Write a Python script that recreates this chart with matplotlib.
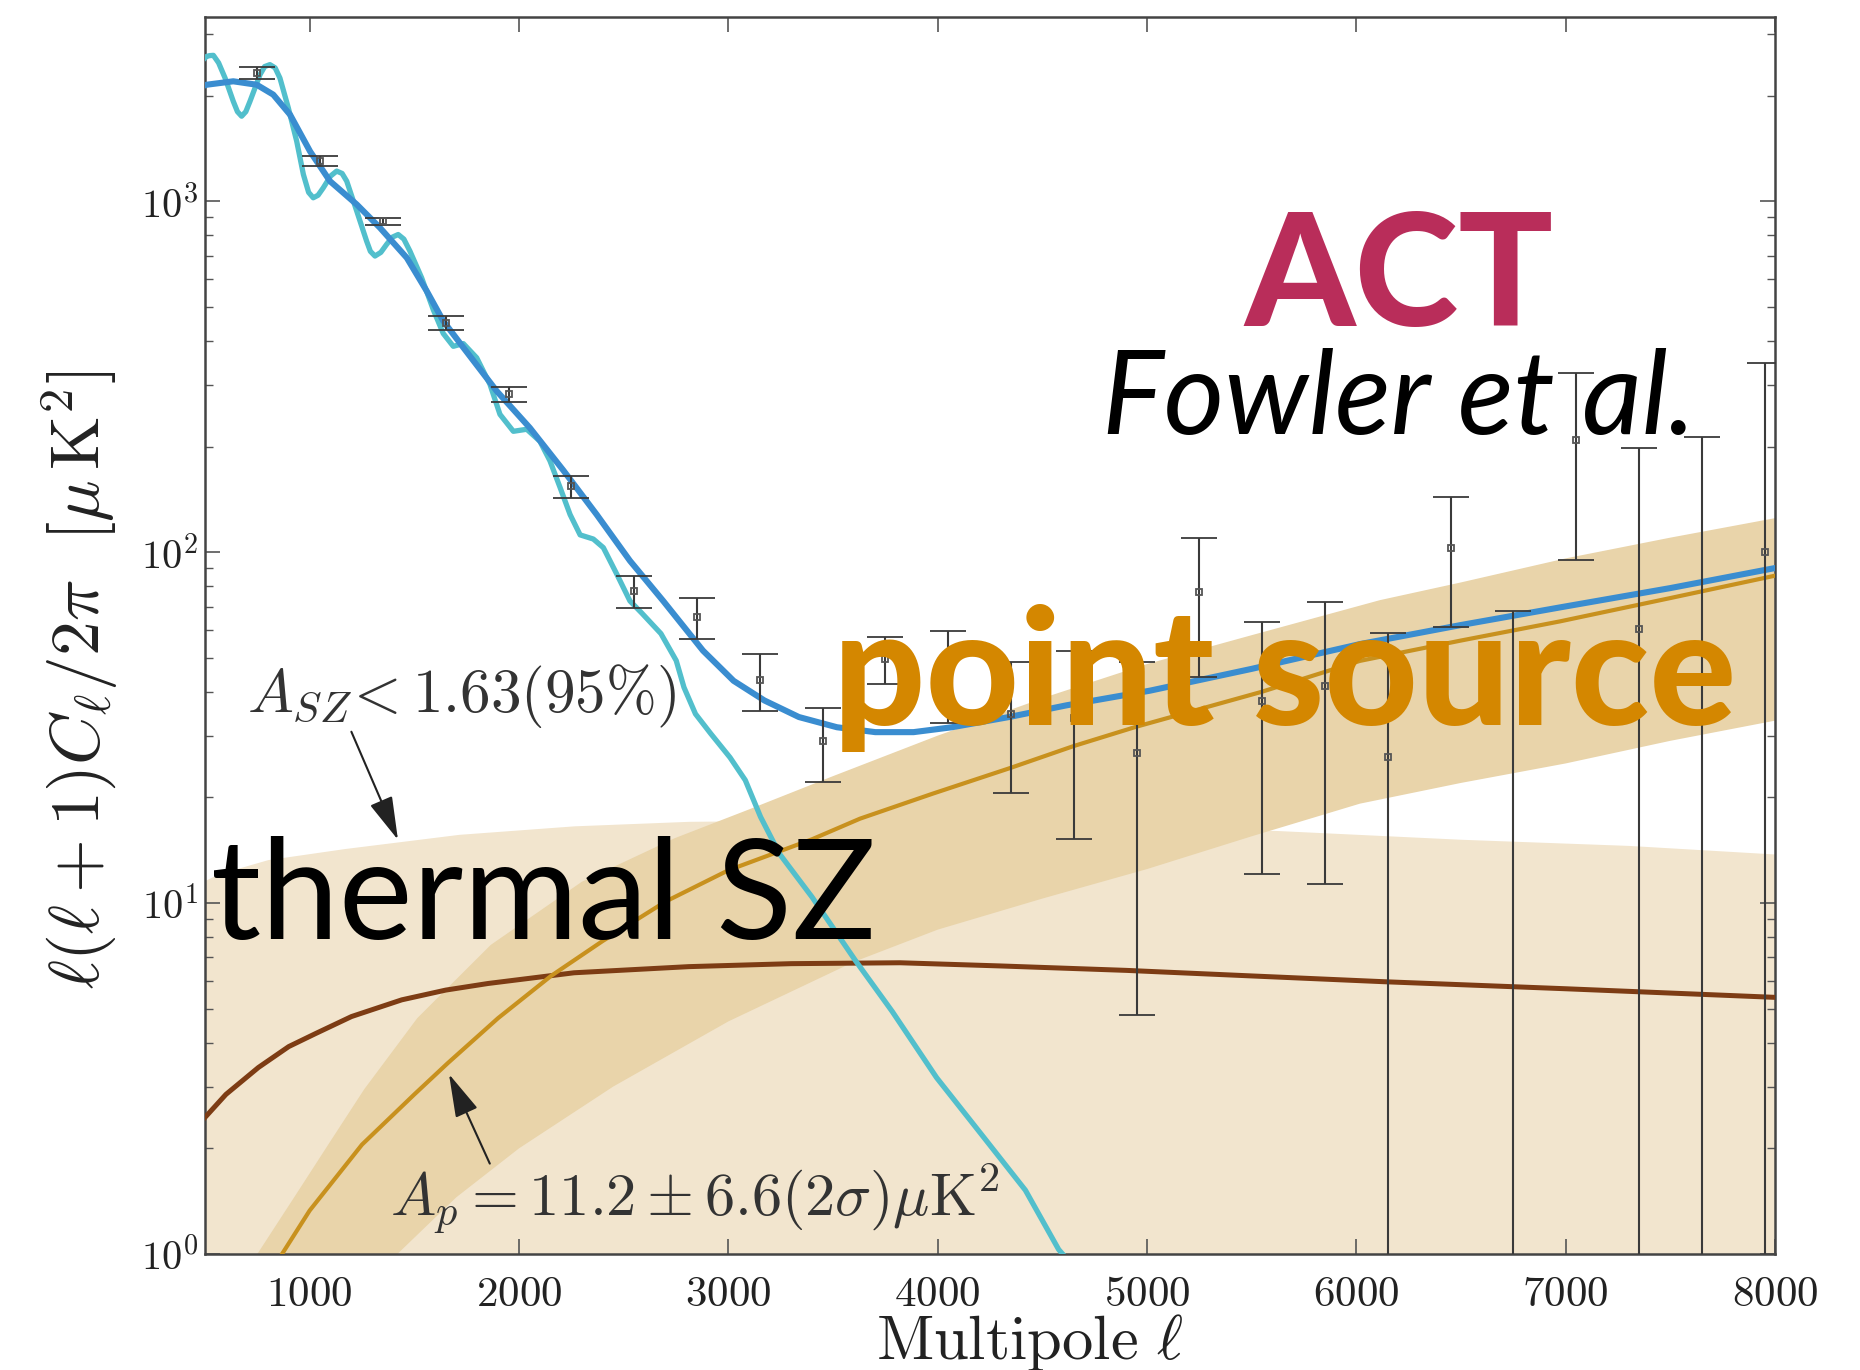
import numpy as np
import matplotlib
matplotlib.use("Agg")
import matplotlib.pyplot as plt

plt.rcParams['mathtext.fontset'] = 'cm'
plt.rcParams['font.family'] = ['DejaVu Serif']

# ---------------- data ----------------
bin_ell = [750, 1050, 1350, 1650, 1950, 2250, 2550, 2850, 3150, 3450, 3750, 4050,
           4350, 4650, 4950, 5250, 5550, 5850, 6150, 6450, 6750, 7050, 7350, 7650, 7950]
bin_val = [2323, 1304, 877, 451, 282, 154, 77.4, 65.2, 43.3, 29.0, 49.7, 46.0,
           34.6, 33.7, 26.7, 77.0, 37.6, 41.6, 26.1, 102.5, -5.0, 209, 60.4, -20.0, 100]
bin_err = [88, 41, 21, 20, 14, 11, 8.3, 8.7, 8.1, 6.9, 7.6, 13.5,
           14.0, 18.5, 21.9, 33.0, 25.5, 30.3, 32.8, 41.5, 73.0, 114, 137.4, 233, 245]

cmb_ell = [500, 508, 522, 540, 565, 596, 635, 655, 675, 695, 715, 763, 785, 810, 835,
           858, 898, 938, 970, 995, 1017, 1040, 1065, 1100, 1129, 1155, 1177, 1225, 1272,
           1290, 1312, 1340, 1368, 1395, 1423, 1450, 1479, 1535, 1591, 1638, 1686, 1734,
           1798, 1861, 1909, 1973, 2037, 2100, 2148, 2196, 2244, 2292, 2355, 2403, 2467,
           2530, 2587, 2678, 2751, 2788, 2843, 2916, 3008, 3081, 3154, 3245, 3400, 3607,
           3783, 3995, 4207, 4419, 4578, 4700]
cmb_val = [2560, 2587, 2600, 2605, 2480, 2244, 1927, 1800, 1747, 1800, 1927, 2296, 2420,
           2451, 2400, 2244, 1846, 1483, 1192, 1060, 1023, 1040, 1092, 1180, 1219, 1200,
           1141, 937, 770, 720, 698, 715, 754, 790, 804, 780, 721, 605, 490, 420, 386, 393,
           358, 301, 247, 221, 224, 207, 182, 153, 128, 112, 109, 103, 86.6,
           72.6, 67.0, 58.6, 49.1, 41.2, 34.6, 30.4, 26.0, 22.4, 17.6, 13.8, 10.4, 6.86,
           4.91, 3.18, 2.20, 1.52, 1.03, 0.85]

tot_ell = [500, 508, 635, 747, 826, 906, 1002, 1097, 1225, 1336, 1464, 1559, 1638, 1734,
           1893, 2052, 2212, 2371, 2530, 2689, 2879, 3025, 3172, 3337, 3519, 3702, 3885,
           4068, 4341, 4615, 5014, 5500, 6017, 6500, 6973, 7500, 8000]
tot_val = [2140, 2148, 2197, 2148, 2013, 1766, 1387, 1141, 979, 840, 690, 555, 456, 383,
           288, 226, 171, 128, 94.5, 72.6, 52.4, 43.0, 37.8, 33.9, 31.7, 30.7, 30.7, 31.7,
           33.9, 36.6, 40.3, 46.5, 54.7, 62.0, 69.6, 79.0, 90.1]

ps_ell = [868, 1000, 1250, 1500, 1660, 1900, 2153, 2400, 2700, 3000, 3400, 3629, 3976,
          4350, 4648, 4948, 5548, 6017, 6500, 6973, 7500, 8000]
ps_val = [1.0, 1.33, 2.05, 2.85, 3.5, 4.7, 6.2, 7.8, 10.1, 12.4, 15.2, 17.4, 20.5, 24.3,
          28.0, 31.8, 40.0, 49.0, 56.0, 63.5, 74.0, 85.7]

ps_hi_ell = [500, 750, 948, 1100, 1261, 1514, 1865, 2300, 2743, 3100, 3500, 4000, 4537,
             5000, 5500, 6113, 6500, 7000, 7500, 8000]
ps_hi_val = [0.45, 1.0, 1.52, 2.1, 2.95, 4.7, 7.6, 11.5, 15.3, 18.5, 23.0, 30.0, 39.0,
             48.0, 58.0, 73.0, 82.0, 96.0, 110.0, 125.0]
ps_lo_ell = [500, 1000, 1419, 1700, 2000, 2450, 3000, 3600, 4000, 4500, 5000, 5500, 6017,
             6500, 7000, 7500, 8000]
ps_lo_val = [0.15, 0.5, 1.0, 1.45, 2.0, 3.0, 4.6, 6.8, 8.4, 10.3, 12.5, 15.5, 19.2,
             22.0, 25.0, 29.0, 33.1]

sz_hi_ell = [500, 562, 800, 1166, 1713, 2263, 2812, 3300, 4000, 4800, 5621, 6500, 7300, 8000]
sz_hi_val = [11.6, 12.1, 13.3, 14.3, 15.7, 16.6, 17.1, 17.2, 17.0, 16.6, 16.1, 15.2, 14.6, 13.8]

sz_ell = [500, 600, 755, 900, 1029, 1200, 1440, 1650, 1852, 2263, 2811, 3300, 3820,
          4300, 4902, 5500, 6130, 7000, 7990]
sz_val = [2.45, 2.85, 3.40, 3.9, 4.25, 4.75, 5.30, 5.65, 5.90, 6.33, 6.59, 6.72, 6.76,
          6.62, 6.43, 6.2, 5.97, 5.7, 5.39]

x_ticks = [1000, 2000, 3000, 4000, 5000, 6000, 7000, 8000]
x_tick_labels = ['1000', '2000', '3000', '4000', '5000', '6000', '7000', '8000']
y_ticks = [1, 10, 100, 1000]
y_tick_labels = [r'$10^0$', r'$10^1$', r'$10^2$', r'$10^3$']

# ---------------- figure ----------------
W, H = 1860, 1370
fig = plt.figure(figsize=(W / 100, H / 100), dpi=100)
ax = fig.add_axes([205 / W, 1 - 1254 / H, (1775 - 205) / W, (1254 - 17) / H])
ax.set_yscale('log', nonpositive='clip')
ax.set_xlim(500, 8000)
ax.set_ylim(1, 3350)

light = '#f2e5ce'
dark = '#e9d4aa'
ax.fill_between(sz_hi_ell, 0.01, sz_hi_val, color=light, lw=0, zorder=1)
ax.fill(np.concatenate([ps_hi_ell, ps_lo_ell[::-1]]),
        np.concatenate([ps_hi_val, ps_lo_val[::-1]]), color=dark, lw=0, zorder=2)

ax.plot(sz_ell, sz_val, color='#7d3c14', lw=3.6, zorder=3, solid_joinstyle='round')
ax.plot(ps_ell, ps_val, color='#c8911e', lw=3.0, zorder=3, solid_joinstyle='round')
ax.plot(cmb_ell, cmb_val, color='#52bfcc', lw=3.8, zorder=4, solid_joinstyle='round')
ax.plot(tot_ell, tot_val, color='#3a8dd0', lw=4.4, zorder=5, solid_joinstyle='round')

ax.errorbar(bin_ell, bin_val, yerr=bin_err, fmt='s', ms=5, mfc='none', mec='#555555',
            mew=1.3, ecolor='#3a3a3a', elinewidth=1.5, capsize=13, capthick=1.8, zorder=6)

# ticks
ax.set_xticks(x_ticks)
ax.set_xticklabels(['$%s$' % s for s in x_tick_labels])
ax.set_yticks(y_ticks)
ax.set_yticklabels(y_tick_labels)
ax.tick_params(which='both', direction='in', top=True, right=True, colors='#555555')
ax.tick_params(which='major', length=11, width=1.2, labelcolor='#222222')
ax.tick_params(axis='x', which='major', labelsize=31, pad=14)
ax.tick_params(axis='y', which='major', labelsize=29, pad=5)
ax.tick_params(which='minor', length=5.5, width=1.0)
ax.tick_params(axis='x', which='minor', bottom=False, top=False)
for sp in ax.spines.values():
    sp.set_color('#444444')
    sp.set_linewidth(1.8)

ax.set_xlabel(r'$\mathrm{Multipole}\ \ell$', fontsize=45, color='#222222')
ax.xaxis.set_label_coords(0.525, -0.047)
ax.set_ylabel(r'$\ell(\ell+1)C_\ell/2\pi\ \ [\mu\,\mathrm{K}^2]$', fontsize=50, color='#222222')
ax.yaxis.set_label_coords(-0.054, 0.464)

# annotations
ax.text(700, 10 ** ((1254 - 711.5) / 351.33), r'$A_{SZ}\!<1.63(95\%)$', fontsize=44,
        color='#333333', ha='left', va='baseline', zorder=7)
ax.annotate('', xy=(1427, 14.9), xytext=(1194, 31.3),
            arrowprops=dict(arrowstyle='-|>,head_length=0.9,head_width=0.25',
                            color='#222222', lw=1.5, mutation_scale=30), zorder=7)
ax.text(1384, 10 ** ((1254 - 1215) / 351.33), r'$A_p=11.2\pm6.6(2\sigma)\mu\mathrm{K}^2$',
        fontsize=43.5, color='#333333', ha='left', va='baseline', zorder=7)
ax.annotate('', xy=(1660, 3.31), xytext=(1866, 1.78),
            arrowprops=dict(arrowstyle='-|>,head_length=0.9,head_width=0.25',
                            color='#222222', lw=1.5, mutation_scale=30), zorder=7)

renderer = fig.canvas.get_renderer()


def fit_text(x0, x1, base, s, hpx=None, hfrac=0.717, wexp=0.5, **kw):
    t = fig.text((x0 + x1) / 2 / W, 1 - base / H, s, ha='center', va='baseline',
                 fontsize=100, **kw)
    bb = t.get_window_extent(renderer)
    fs = 100 * (x1 - x0) / bb.width
    if hpx is not None:
        fs_h = hpx / (hfrac * 100 / 72)
        fs = fs ** wexp * fs_h ** (1 - wexp)
    t.set_fontsize(fs)
    return t


sans = ['Lato', 'DejaVu Sans']
fit_text(211, 876, 939, 'thermal SZ', family=sans, color='black')
fit_text(818, 1752, 725, 'point source', hpx=74, hfrac=0.5065, wexp=0.75, family=sans,
         weight='black', color='#d48700')
fit_text(1228, 1570, 326, 'ACT', hpx=102, family=sans, weight='black', color='#b92d5a')
fit_text(1117, 1681, 434, 'Fowler et al.', hpx=88, family=sans, style='italic',
         color='black')

fig.savefig('out.png', dpi=100)
